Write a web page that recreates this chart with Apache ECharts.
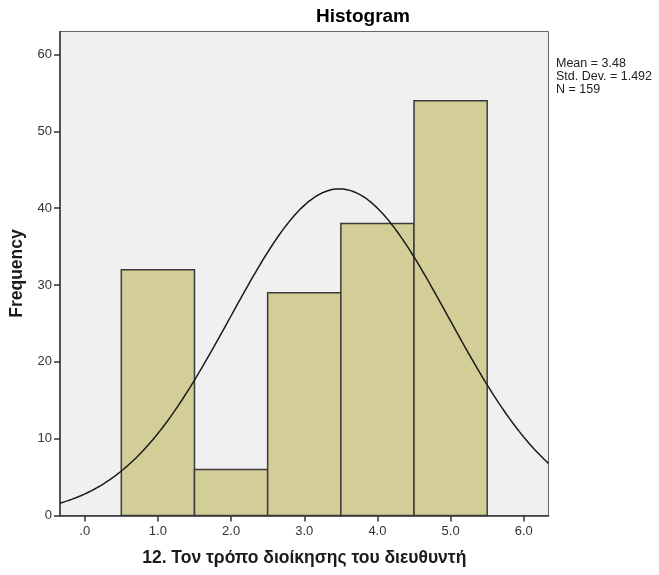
<!DOCTYPE html>
<html>
<head>
<meta charset="utf-8">
<script src="https://cdn.jsdelivr.net/npm/echarts@6/dist/echarts.min.js"></script>
<style>
  html, body { margin: 0; padding: 0; background: #ffffff; }
  #chart { width: 659px; height: 575px; }
</style>
</head>
<body>
<div id="chart"></div>
<script>
// Response categories (bin centres) and their counts
const categories = [1, 2, 3, 4, 5];
const frequencies = [32, 6, 29, 38, 54];

// Summary statistics shown beside the plot
const mean = 3.48;
const stdDev = 1.492;
const n = 159;

// Axis tick positions and labels
const xTicks = [0, 1, 2, 3, 4, 5, 6];
const xTickLabels = ['.0', '1.0', '2.0', '3.0', '4.0', '5.0', '6.0'];
const yTicks = [0, 10, 20, 30, 40, 50, 60];

const xMin = -0.338, xMax = 6.338, yMax = 63;

// Normal curve scaled to counts (bin width 1)
const curve = [];
const steps = 200;
for (let i = 0; i <= steps; i++) {
  const x = xMin + (xMax - xMin) * i / steps;
  const z = (x - mean) / stdDev;
  curve.push([x, n / (stdDev * Math.sqrt(2 * Math.PI)) * Math.exp(-0.5 * z * z)]);
}

const barData = categories.map((c, i) => [c, frequencies[i]]);

const chart = echarts.init(document.getElementById('chart'), null, { renderer: 'canvas' });
const font = 'Arial, "Liberation Sans", sans-serif';

chart.setOption({
  animation: false,
  backgroundColor: '#ffffff',
  grid: {
    left: 60, top: 31.5, right: 110.5, bottom: 59.5,
    outerBoundsMode: 'none', containLabel: false,
    show: true, backgroundColor: '#f0f0f0', borderColor: '#666666', borderWidth: 1
  },
  title: {
    text: 'Histogram',
    left: 358, top: 2, textAlign: 'center',
    textStyle: { fontFamily: font, fontSize: 19, fontWeight: 'bold', color: '#000' }
  },
  xAxis: {
    type: 'value', min: xMin, max: xMax,
    name: '12. Τον τρόπο διοίκησης του διευθυντή',
    nameLocation: 'middle', nameGap: 34,
    nameTextStyle: { fontFamily: font, fontSize: 17.5, fontWeight: 'bold', color: '#1a1a1a' },
    axisLine: { show: true, onZero: false, lineStyle: { color: '#333333', width: 1.5 } },
    axisTick: { show: true, inside: false, length: 6, customValues: xTicks, lineStyle: { color: '#333333', width: 1.5 } },
    axisLabel: {
      customValues: xTicks, margin: 9,
      fontFamily: font, fontSize: 13, color: '#333333',
      formatter: v => xTickLabels[xTicks.indexOf(Math.round(v))]
    },
    splitLine: { show: false }
  },
  yAxis: {
    type: 'value', min: 0, max: yMax,
    name: 'Frequency', nameLocation: 'middle', nameGap: 31, nameRotate: 90,
    nameTextStyle: { fontFamily: font, fontSize: 17.5, fontWeight: 'bold', color: '#1a1a1a' },
    axisLine: { show: true, onZero: false, lineStyle: { color: '#333333', width: 1.5 } },
    axisTick: { show: true, inside: false, length: 6, customValues: yTicks, lineStyle: { color: '#333333', width: 1.5 } },
    axisLabel: { customValues: yTicks, margin: 8, fontFamily: font, fontSize: 13, color: '#333333' },
    splitLine: { show: false }
  },
  graphic: [{
    type: 'text', left: 556, top: 57,
    style: {
      text: 'Mean = ' + mean.toFixed(2) + '\nStd. Dev. = ' + stdDev.toFixed(3) + '\nN = ' + n,
      font: '12.5px ' + font, fill: '#222222', lineHeight: 13
    }
  }],
  series: [
    {
      type: 'custom',
      data: barData,
      renderItem: (params, api) => {
        const c = api.value(0), v = api.value(1);
        const p0 = api.coord([c - 0.5, v]);
        const p1 = api.coord([c + 0.5, 0]);
        return {
          type: 'rect',
          shape: { x: p0[0], y: p0[1], width: p1[0] - p0[0], height: p1[1] - p0[1] },
          style: { fill: '#d3ce97', stroke: '#3a3a3a', lineWidth: 1.5 }
        };
      },
      encode: { x: 0, y: 1 },
      z: 2
    },
    {
      type: 'line', data: curve, showSymbol: false, smooth: false,
      lineStyle: { color: '#1a1a1a', width: 1.5 }, z: 3
    }
  ]
});
</script>
</body>
</html>
